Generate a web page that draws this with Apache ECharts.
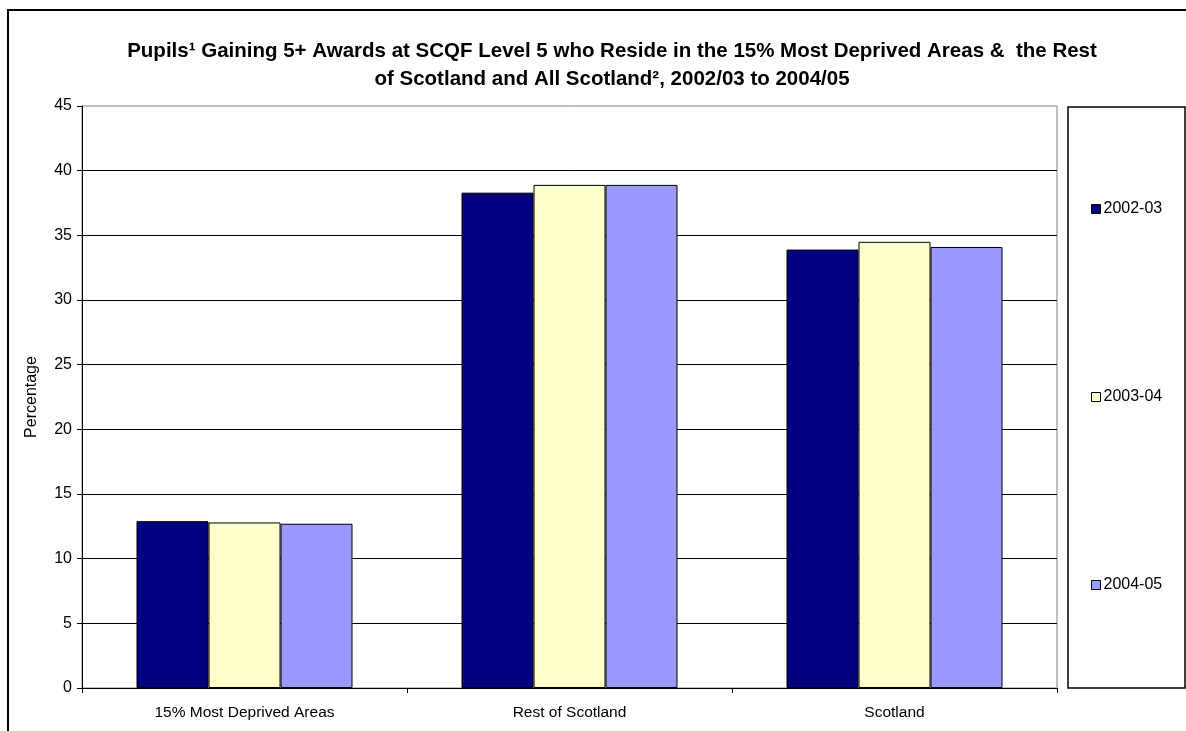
<!DOCTYPE html>
<html>
<head>
<meta charset="utf-8">
<script src="https://cdn.jsdelivr.net/npm/echarts@6/dist/echarts.min.js"></script>
<style>
    html, body { margin: 0; padding: 0; background: #fff; }
    #chart { width: 1186px; height: 731px; }
</style>
</head>
<body>
<div id="chart"></div>
<script>
var categories = ['15% Most Deprived Areas', 'Rest of Scotland', 'Scotland'];
var seriesNames = ['2002-03', '2003-04', '2004-05'];
var values2002 = [12.9, 38.3, 33.9];
var values2003 = [12.8, 38.9, 34.5];
var values2004 = [12.7, 38.9, 34.1];
var yTicks = [0, 45, 5];

var colors = ['#000080', '#ffffcc', '#9999ff'];

var chart_element = document.getElementById('chart');
if (chart_element) {
    var chart = echarts.init(chart_element);
    chart.setOption({
        color: colors,
        animation: false,

        textStyle: {
            fontFamily: 'Liberation Sans, Arial, sans-serif',
            fontSize: 15,
            color: '#000'
        },

        title: {
            text: 'Pupils\u00b9 Gaining 5+ Awards at SCQF Level 5 who Reside in the 15% Most Deprived Areas &  the Rest\nof Scotland and All Scotland\u00b2, 2002/03 to 2004/05',
            left: 607,
            top: 32,
            textAlign: 'center',
            textStyle: {
                fontFamily: 'Liberation Sans, Arial, sans-serif',
                fontSize: 20.5,
                fontWeight: 'bold',
                color: '#000',
                lineHeight: 28
            }
        },

        graphic: [{
            type: 'rect',
            shape: { x: 8, y: 10, width: 1200, height: 800 },
            style: { fill: 'none', stroke: '#000', lineWidth: 2 },
            silent: true
        }, {
            type: 'rect',
            shape: { x: 1068, y: 107, width: 117, height: 581 },
            style: { fill: 'none', stroke: '#000', lineWidth: 1.5 },
            silent: true
        }],

        legend: {
            orient: 'vertical',
            left: 1091,
            top: 201,
            padding: 0,
            itemGap: 172,
            itemWidth: 9,
            itemHeight: 9,
            icon: 'rect',
            itemStyle: { borderColor: '#000', borderWidth: 1 },
            textStyle: {
                fontSize: 16,
                lineHeight: 16,
                color: '#000',
                padding: [0, 0, 0, -2]
            },
            data: seriesNames
        },

        grid: {
            left: 82,
            right: 129,
            top: 106,
            bottom: 43,
            show: true,
            borderColor: '#808080',
            borderWidth: 1
        },

        xAxis: {
            type: 'category',
            data: categories,
            axisLine: { lineStyle: { color: '#000', width: 1 } },
            axisTick: { show: true, length: 5, lineStyle: { color: '#000' } },
            axisLabel: { margin: 17, fontSize: 15.5, color: '#000' }
        },

        yAxis: {
            type: 'value',
            name: 'Percentage',
            nameLocation: 'middle',
            nameGap: 42,
            nameTextStyle: { fontSize: 16, color: '#000' },
            min: yTicks[0],
            max: yTicks[1],
            interval: yTicks[2],
            axisLine: { show: true, lineStyle: { color: '#000', width: 1 } },
            axisTick: { show: true, length: 5, lineStyle: { color: '#000' } },
            axisLabel: { margin: 10, fontSize: 16, color: '#000' },
            splitLine: { show: true, showMaxLine: false, lineStyle: { color: '#000', width: 1 } }
        },

        series: [{
            name: seriesNames[0],
            type: 'bar',
            barWidth: 72,
            barGap: '0%',
            itemStyle: { borderColor: '#000', borderWidth: 1 },
            data: values2002
        }, {
            name: seriesNames[1],
            type: 'bar',
            barWidth: 72,
            barGap: '0%',
            itemStyle: { borderColor: '#000', borderWidth: 1 },
            data: values2003
        }, {
            name: seriesNames[2],
            type: 'bar',
            barWidth: 72,
            barGap: '0%',
            itemStyle: { borderColor: '#000', borderWidth: 1 },
            data: values2004
        }]
    });
}
</script>
</body>
</html>
